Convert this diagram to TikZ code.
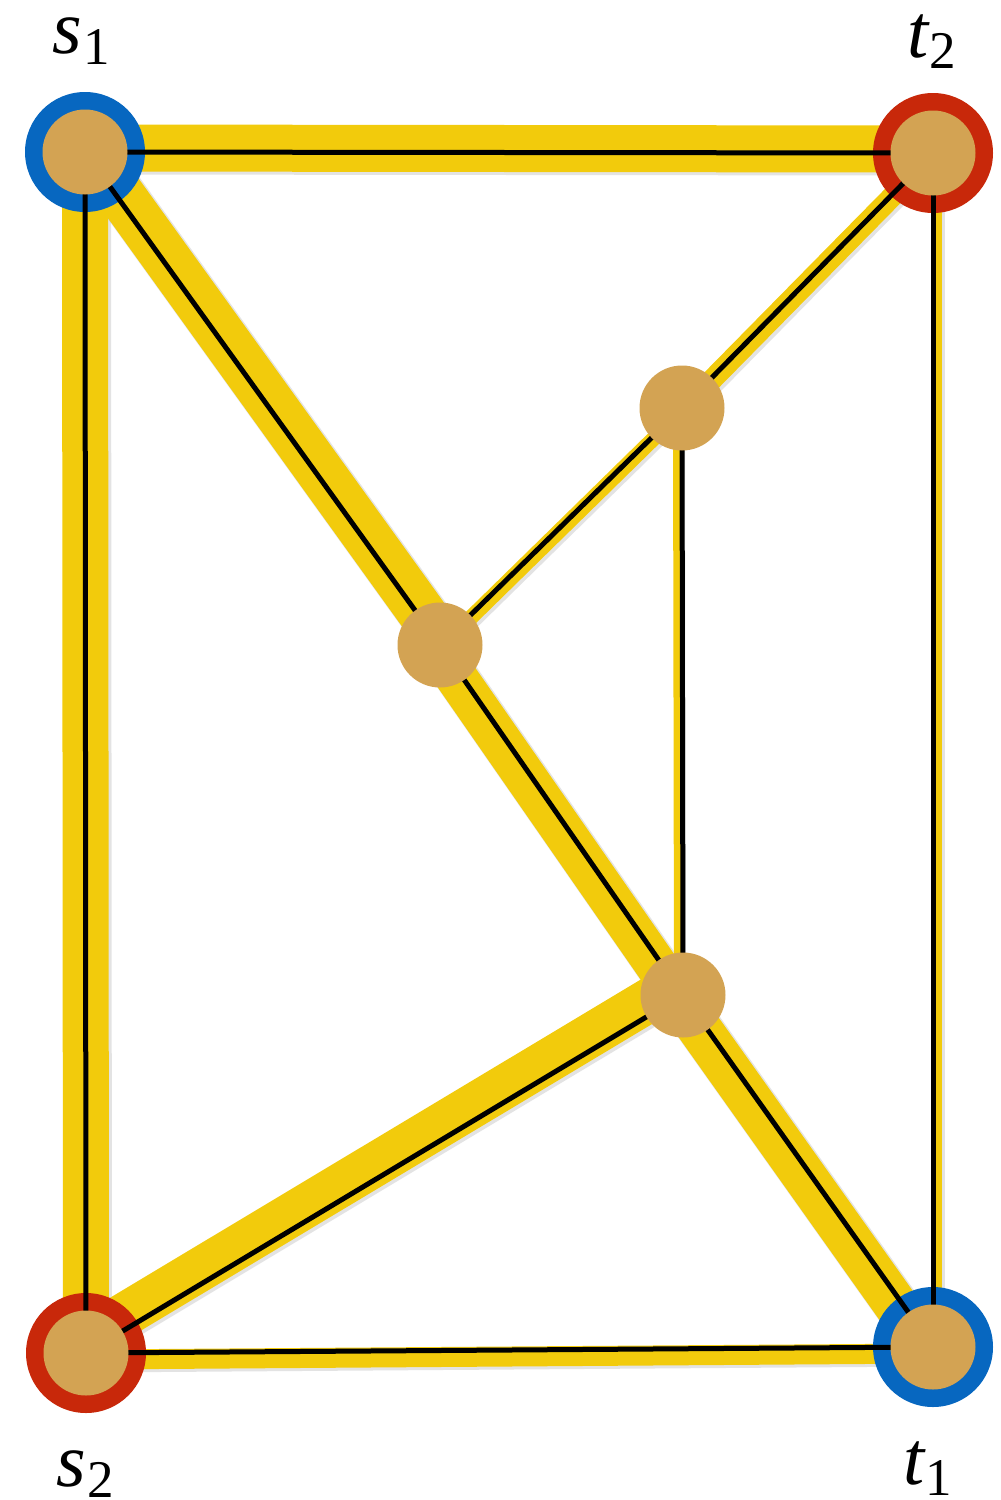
\documentclass[tikz,border=0pt]{standalone}
\usepackage{fontspec}
\setmainfont{Liberation Serif}
\usetikzlibrary{calc}
\definecolor{bandyellow}{HTML}{F2CB0C}
\definecolor{ringblue}{HTML}{0767C0}
\definecolor{ringred}{HTML}{C8280A}
\definecolor{discfill}{HTML}{D3A353}
\tikzset{
  yband/.style={draw=bandyellow, line cap=butt},
  yshadow/.style={draw=black!60, opacity=0.18, line cap=butt},
  edgeline/.style={draw=black, line width=5pt},
  ringnode/.style={circle, minimum size=120pt, inner sep=0pt, draw=none},
  discnode/.style={circle, minimum size=85pt, inner sep=0pt, fill=discfill, draw=none},
  lbl/.style={anchor=base, inner sep=0pt, font=\fontsize{76}{80}\selectfont}
}
\newcommand{\subnum}[1]{\kern1pt\raisebox{-11pt}{\fontsize{53}{53}\selectfont\upshape #1}}
\begin{document}
\begin{tikzpicture}[x=1pt,y=-1pt]
\path[use as bounding box] (0,0) rectangle (1001,1500);
\coordinate (s1) at (85,152);
\coordinate (t2) at (933,153);
\coordinate (s2) at (86,1353);
\coordinate (t1) at (933,1347);
\coordinate (A) at (682,408);
\coordinate (B) at (440,645);
\coordinate (C) at (683,995);
% shadows
\foreach \a/\b/\w/\o in {s1/t2/47pt/4pt, s1/s2/46pt/0pt, s1/B/48pt/4pt, B/C/42pt/-5pt, C/t1/44pt/-6pt, C/s2/44pt/-13pt, t2/A/21pt/1.5pt, A/B/15pt/2pt, A/C/9pt/-4.5pt, t2/t1/11pt/3.5pt, s2/t1/20pt/-6.5pt}{
  \draw[yshadow, line width=\w+2pt, transform canvas={xshift=2pt,yshift=-2pt}] ($(\a)!\o!90:(\b)$) -- ($(\b)!\o!-90:(\a)$);
}
% yellow bands
\foreach \a/\b/\w/\o in {s1/t2/47pt/4pt, s1/s2/46pt/0pt, s1/B/48pt/4pt, B/C/42pt/-5pt, C/t1/44pt/-6pt, C/s2/44pt/-13pt, t2/A/21pt/1.5pt, A/B/15pt/2pt, A/C/9pt/-4.5pt, t2/t1/11pt/3.5pt, s2/t1/20pt/-6.5pt}{
  \draw[yband, line width=\w] ($(\a)!\o!90:(\b)$) -- ($(\b)!\o!-90:(\a)$);
}
% rings
\node[ringnode, fill=ringblue] (s1ring) at (s1) {};
\node[ringnode, fill=ringred] (t2ring) at (t2) {};
\node[ringnode, fill=ringred] (s2ring) at (s2) {};
\node[ringnode, fill=ringblue] (t1ring) at (t1) {};
% black edges
\foreach \a/\b in {s1/t2, s1/s2, s1/B, B/C, C/t1, C/s2, t2/A, A/B, A/C, t2/t1, s2/t1}{
  \draw[edgeline] (\a) -- (\b);
}
% discs
\node[discnode] (s1disc) at (s1) {};
\node[discnode] (t2disc) at (t2) {};
\node[discnode] (s2disc) at (s2) {};
\node[discnode] (t1disc) at (t1) {};
\node[discnode] (Adisc) at (A) {};
\node[discnode] (Bdisc) at (B) {};
\node[discnode] (Cdisc) at (C) {};
% labels
\node[lbl] (ls1) at (81,53) {\smash{\itshape s\subnum{1}}};
\node[lbl] (lt2) at (932,57) {\smash{\itshape t\subnum{2}}};
\node[lbl] (ls2) at (85,1486) {\smash{\itshape s\subnum{2}}};
\node[lbl] (lt1) at (928,1484) {\smash{\itshape t\subnum{1}}};
\end{tikzpicture}
\end{document}
